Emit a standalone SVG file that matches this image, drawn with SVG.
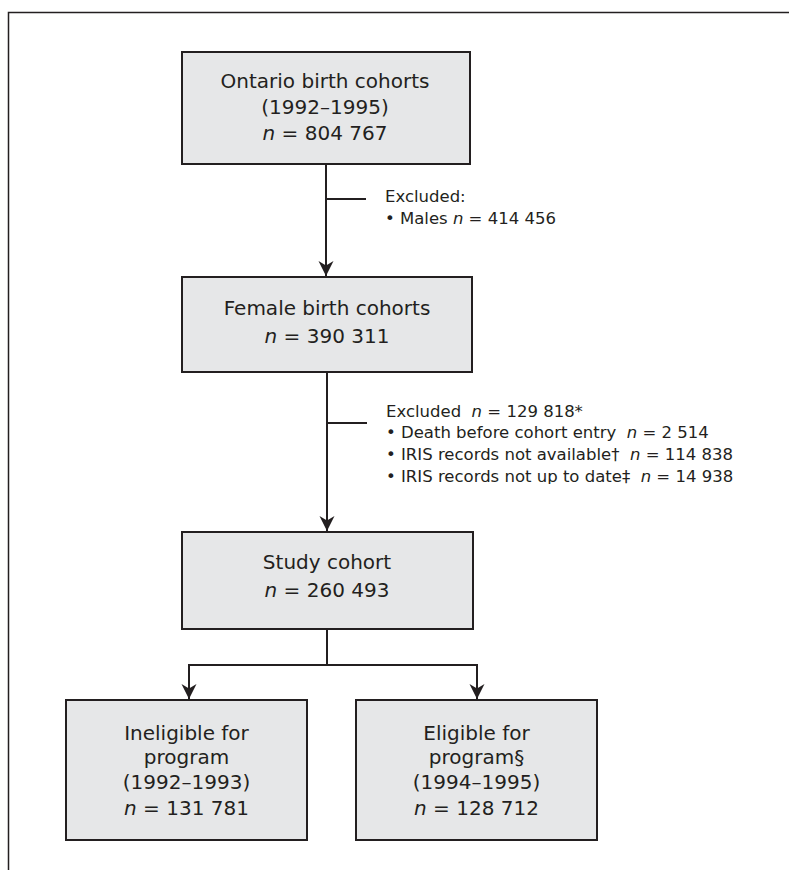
<svg xmlns="http://www.w3.org/2000/svg" width="789" height="870" viewBox="0 0 789 870">
<style>
.box{fill:#e6e7e8;stroke:#231f20;stroke-width:2}
.t{font-family:"DejaVu Sans","Noto Sans",sans-serif;font-size:20px;fill:#231f20;text-anchor:middle}
.x{font-family:"DejaVu Sans","Noto Sans",sans-serif;font-size:16.5px;fill:#231f20;white-space:pre}
.i{font-style:italic}
.c{fill:none;stroke:#231f20;stroke-width:2}
</style>
<defs>
<marker id="ah" markerUnits="userSpaceOnUse" markerWidth="17" markerHeight="17" viewBox="-16 -8.5 17 17" refX="0" refY="0" orient="auto">
<path d="M0,0 L-15,-7.5 L-10.5,0 L-15,7.5 Z" fill="#231f20"/>
</marker>
<clipPath id="clipEx"><rect x="380" y="395" width="405" height="89"/></clipPath>
</defs>
<rect width="789" height="870" fill="#fff"/>
<path d="M8.5,870 V12.5 H789" fill="none" stroke="#231f20" stroke-width="1.5"/>
<g id="connectors">
<path class="c" d="M326,164 V276" marker-end="url(#ah)"/>
<path class="c" d="M326,199 H366"/>
<path class="c" d="M327,372 V531" marker-end="url(#ah)"/>
<path class="c" d="M327,423 H367"/>
<path class="c" d="M327,629 V665 M188,665 H478"/>
<path class="c" d="M189,664 V699" marker-end="url(#ah)"/>
<path class="c" d="M477,664 V699" marker-end="url(#ah)"/>
</g>
<g id="n1">
<rect class="box" x="182" y="52" width="288" height="112"/>
<text class="t" x="325" y="88">Ontario birth cohorts</text>
<text class="t" x="325" y="114">(1992–1995)</text>
<text class="t" x="325" y="140"><tspan class="i">n</tspan> = 804 767</text>
</g>
<g id="ex1">
<text class="x" x="385" y="202">Excluded:</text>
<text class="x" x="385" y="224">• Males <tspan class="i">n</tspan> = 414 456</text>
</g>
<g id="n2">
<rect class="box" x="182" y="277" width="290" height="95"/>
<text class="t" x="327" y="315">Female birth cohorts</text>
<text class="t" x="327" y="343"><tspan class="i">n</tspan> = 390 311</text>
</g>
<g id="ex2" clip-path="url(#clipEx)">
<text class="x" x="386" y="417">Excluded  <tspan class="i">n</tspan> = 129 818*</text>
<text class="x" x="386" y="438">• Death before cohort entry  <tspan class="i">n</tspan> = 2 514</text>
<text class="x" x="386" y="460">• IRIS records not available†  <tspan class="i">n</tspan> = 114 838</text>
<text class="x" x="386" y="482">• IRIS records not up to date‡  <tspan class="i">n</tspan> = 14 938</text>
</g>
<g id="n3">
<rect class="box" x="182" y="532" width="291" height="97"/>
<text class="t" x="327" y="569">Study cohort</text>
<text class="t" x="327" y="597"><tspan class="i">n</tspan> = 260 493</text>
</g>
<g id="n4">
<rect class="box" x="66" y="700" width="241" height="140"/>
<text class="t" x="186.5" y="740">Ineligible for</text>
<text class="t" x="186.5" y="764">program</text>
<text class="t" x="186.5" y="789">(1992–1993)</text>
<text class="t" x="186.5" y="815"><tspan class="i">n</tspan> = 131 781</text>
</g>
<g id="n5">
<rect class="box" x="356" y="700" width="241" height="140"/>
<text class="t" x="476.5" y="740">Eligible for</text>
<text class="t" x="476.5" y="764">program§</text>
<text class="t" x="476.5" y="789">(1994–1995)</text>
<text class="t" x="476.5" y="815"><tspan class="i">n</tspan> = 128 712</text>
</g>
</svg>
